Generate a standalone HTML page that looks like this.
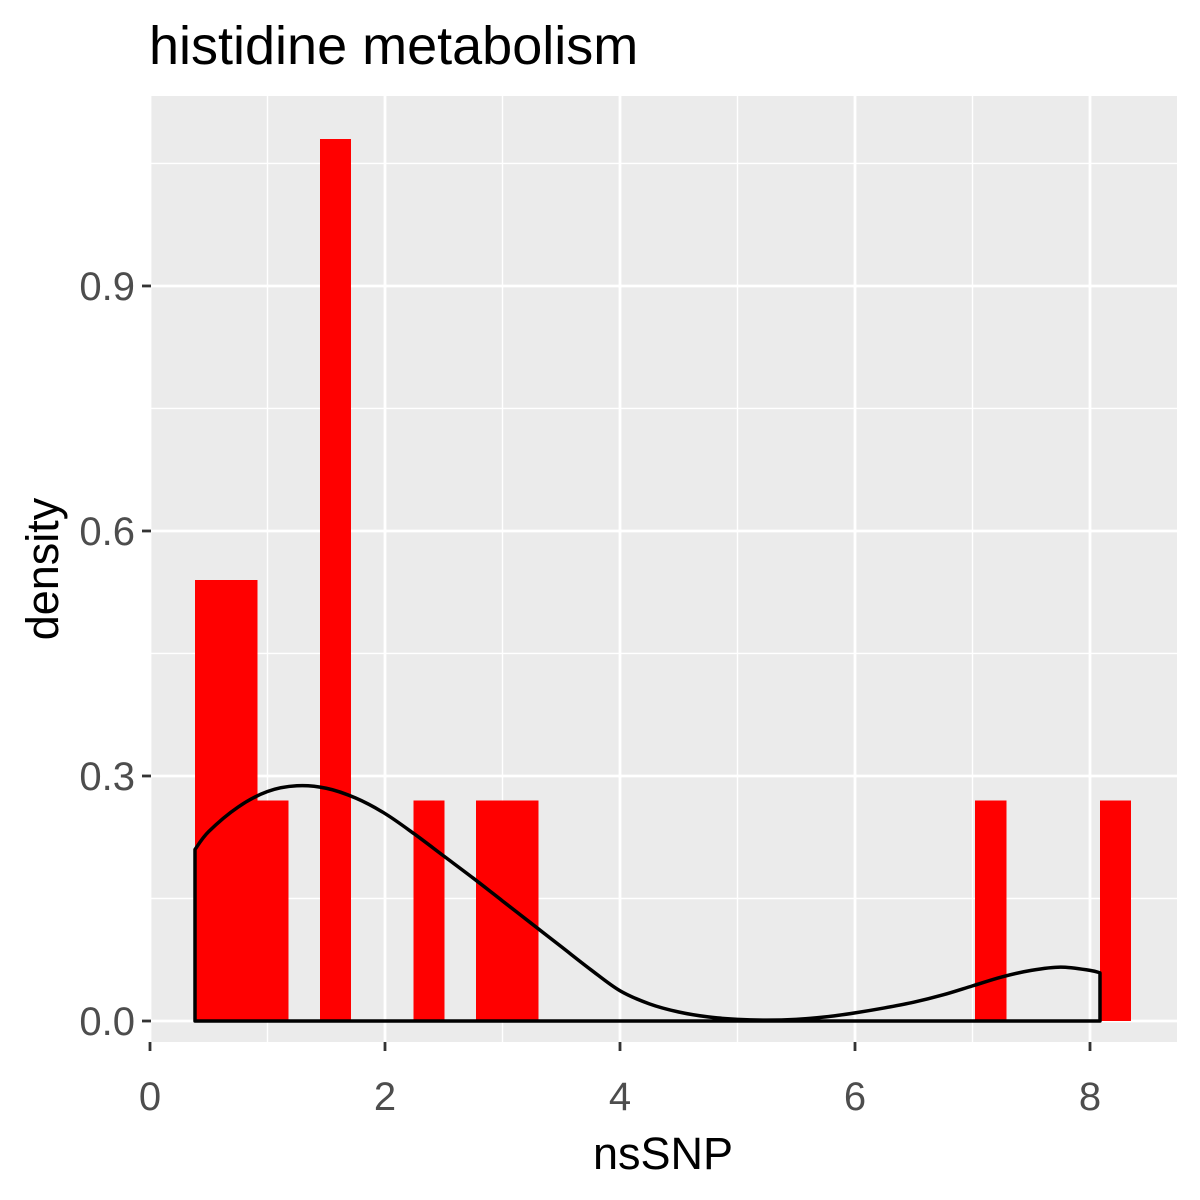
<!DOCTYPE html>
<html><head><meta charset="utf-8"><style>
body{margin:0;background:#fff;}
svg{display:block;font-family:"Liberation Sans",Arial,sans-serif;}
</style></head><body>
<svg id="chart" width="1200" height="1200" viewBox="0 0 1200 1200">
<text x="149" y="64" font-size="54" fill="#000">histidine metabolism</text>
<rect x="151" y="96" width="1026" height="946" fill="#EBEBEB"/>
<g id="grid"></g>
<g id="bars" shape-rendering="crispEdges"></g>
<g id="curve"></g>
<g id="axes"></g>
<text x="663" y="1169" font-size="45" text-anchor="middle" fill="#000">nsSNP</text>
<text transform="translate(58,569) rotate(-90)" font-size="45" text-anchor="middle" fill="#000">density</text>
</svg>
<script>
const binStart = 0.383;
const binWidth = 0.2656;
const binIndex = [0, 1, 2, 4, 7, 9, 10, 25, 29];
const binDensity = [0.54, 0.54, 0.27, 1.08, 0.27, 0.27, 0.27, 0.27, 0.27];
const curveX = [0.383,0.5,0.75,1.0,1.25,1.5,1.75,2.0,2.25,2.5,2.75,3.0,3.25,3.5,3.75,4.0,4.25,4.5,4.75,5.0,5.25,5.5,5.75,6.0,6.25,6.5,6.75,7.0,7.25,7.5,7.75,8.0,8.085];
const curveY = [0.21,0.232,0.262,0.281,0.288,0.285,0.273,0.254,0.229,0.202,0.175,0.147,0.119,0.091,0.063,0.037,0.021,0.011,0.005,0.002,0.001,0.002,0.005,0.01,0.016,0.023,0.032,0.043,0.054,0.062,0.066,0.062,0.059];
const xTicks = [0, 2, 4, 6, 8];
const xMinor = [1, 3, 5, 7];
const yTicks = [0, 0.3, 0.6, 0.9];
const yTickLabels = ["0.0", "0.3", "0.6", "0.9"];
const yMinor = [0.15, 0.45, 0.75, 1.05];

const X = v => 150 + v * 117.5;
const Y = v => 1021 - v * 816.7;
const NS = "http://www.w3.org/2000/svg";
function mk(tag, attrs, parent) {
  const e = document.createElementNS(NS, tag);
  for (const k in attrs) e.setAttribute(k, attrs[k]);
  parent.appendChild(e);
  return e;
}
const grid = document.getElementById('grid');
xMinor.forEach(v => {
  const l = mk('line', {x1: X(v), x2: X(v), y1: 96, y2: 1042, stroke: '#fff', 'stroke-width': 1.4}, grid);
  
  
});
yMinor.forEach(v => {
  const l = mk('line', {x1: 151, x2: 1177, y1: Y(v), y2: Y(v), stroke: '#fff', 'stroke-width': 1.4}, grid);
  
  
});
xTicks.forEach(v => {
  const l = mk('line', {x1: X(v), x2: X(v), y1: 96, y2: 1042, stroke: '#fff', 'stroke-width': 2.8}, grid);
  
  
});
yTicks.forEach(v => {
  const l = mk('line', {x1: 151, x2: 1177, y1: Y(v), y2: Y(v), stroke: '#fff', 'stroke-width': 2.8}, grid);
  
  
});
const bars = document.getElementById('bars');
binIndex.forEach((b, i) => {
  const x0 = X(binStart + b * binWidth), x1 = X(binStart + (b + 1) * binWidth);
  const r = mk('rect', {x: x0, y: Y(binDensity[i]), width: x1 - x0, height: Y(0) - Y(binDensity[i]), fill: '#FF0000'}, bars);
  
  
});
const curve = document.getElementById('curve');
const pts = curveX.map((v, i) => [X(v), Y(curveY[i])]);
let d = 'M' + pts[0][0] + ',' + Y(0) + ' L' + pts[0][0] + ',' + pts[0][1];
for (let i = 0; i < pts.length - 1; i++) {
  const p0 = pts[Math.max(i - 1, 0)], p1 = pts[i], p2 = pts[i + 1], p3 = pts[Math.min(i + 2, pts.length - 1)];
  const c1x = p1[0] + (p2[0] - p0[0]) / 6, c1y = p1[1] + (p2[1] - p0[1]) / 6;
  const c2x = p2[0] - (p3[0] - p1[0]) / 6, c2y = p2[1] - (p3[1] - p1[1]) / 6;
  d += ' C' + c1x + ',' + c1y + ' ' + c2x + ',' + c2y + ' ' + p2[0] + ',' + p2[1];
}
d += ' L' + pts[pts.length - 1][0] + ',' + Y(0) + ' Z';
const p = mk('path', {d: d, fill: 'none', stroke: '#000', 'stroke-width': 3.5, 'stroke-linejoin': 'round'}, curve);


const axes = document.getElementById('axes');
xTicks.forEach(v => {
  const t = mk('line', {x1: X(v), x2: X(v), y1: 1042, y2: 1051, stroke: '#333', 'stroke-width': 2.8}, axes);
  
  
  const tx = mk('text', {x: X(v), y: 1110, 'font-size': 40, fill: '#4D4D4D', 'text-anchor': 'middle'}, axes);
  tx.textContent = String(v);
  
  
});
yTicks.forEach((v, i) => {
  const t = mk('line', {x1: 142, x2: 151, y1: Y(v), y2: Y(v), stroke: '#333', 'stroke-width': 2.8}, axes);
  
  
  const tx = mk('text', {x: 135, y: Y(v) + 14, 'font-size': 40, fill: '#4D4D4D', 'text-anchor': 'end'}, axes);
  tx.textContent = yTickLabels[i];
  
  
});
</script>
</body></html>
